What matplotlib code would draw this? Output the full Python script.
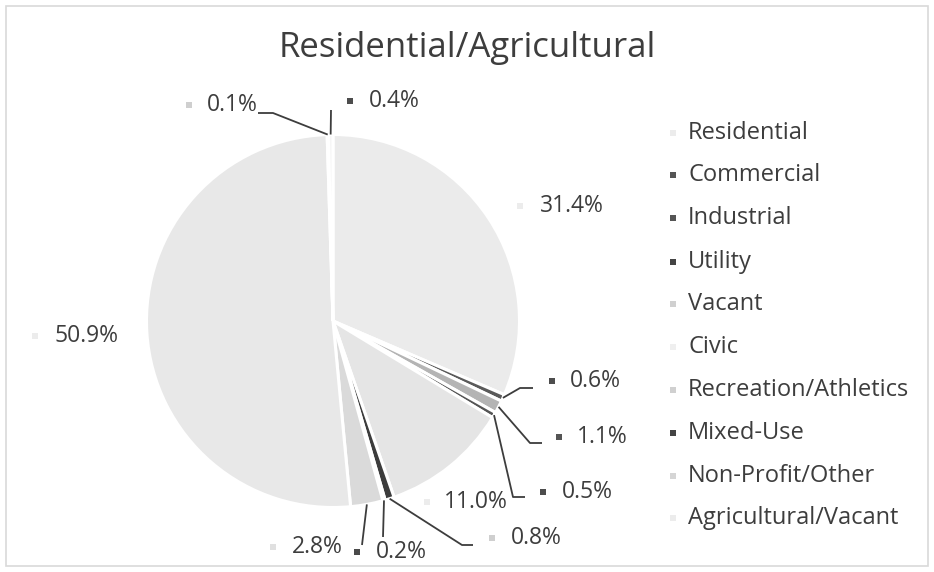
import matplotlib
matplotlib.use("Agg")
import matplotlib.pyplot as plt
from matplotlib.patches import Rectangle
import numpy as np

# Land-use shares, clockwise from 12 o'clock
slice_values = [31.4, 0.6, 1.1, 0.5, 11.0, 0.8, 0.2, 2.8, 50.9, 0.1, 0.4]
slice_colors = ['#ebebeb', '#5a5a5a', '#b4b4b4', '#555555', '#e5e5e5', '#3c3c3c',
                '#f2f2f2', '#dadada', '#e8e8e8', '#f6f6f6', '#f6f6f6']
label_marker_colors = ['#ececec', '#4d4d4d', '#555555', '#4d4d4d', '#ececec', '#cfcfcf',
                       '#4a4a4a', '#e0e0e0', '#ececec', '#cfcfcf', '#4d4d4d']

legend_labels = ['Residential', 'Commercial', 'Industrial', 'Utility', 'Vacant', 'Civic',
                 'Recreation/Athletics', 'Mixed-Use', 'Non-Profit/Other', 'Agricultural/Vacant']
legend_colors = ['#ececec', '#555555', '#555555', '#444444', '#d0d0d0', '#efefef',
                 '#d0d0d0', '#444444', '#d5d5d5', '#ececec']

title = 'Residential/Agricultural'

# canvas in pixels, y measured from the top
W, H = 934, 572
PIE_X, PIE_Y, PIE_R = 333, 321, 186.5
TEXT_COLOR = '#3d3d3d'
FONT = 'Open Sans'

# label placement: marker (x, y), text left x, leader elbow points (label side first)
label_layout = [
    ((520, 206), 540, []),
    ((552, 381), 570, [(533, 388), (520, 388)]),
    ((559, 437), 577, [(542, 443), (530, 443)]),
    ((543, 492), 562, [(525, 497), (513, 497)]),
    ((427, 502), 444, []),
    ((492, 538), 511, [(473, 545), (462, 545)]),
    ((357, 552), 376, [(383, 537)]),
    ((273, 547), 292, [(362, 545)]),
    ((35, 336), 54, []),
    ((189, 105), 207, [(258, 113), (273, 113)]),
    ((350, 101), 369, [(331, 110)]),
]

legend_x = 673
legend_y = [133, 175, 218, 262, 304, 347, 390, 433, 476, 518]


def flip(y):
    return H - y


fig = plt.figure(figsize=(W / 100, H / 100), dpi=100)
ax = fig.add_axes([0, 0, 1, 1])

wedges, _ = ax.pie(slice_values, colors=slice_colors, startangle=90, counterclock=False,
                   center=(PIE_X, flip(PIE_Y)), radius=PIE_R, frame=True,
                   wedgeprops=dict(edgecolor='white', linewidth=2.2))

ax.set_xlim(0, W)
ax.set_ylim(0, H)
ax.set_aspect('equal')
ax.axis('off')

# outer chart border
ax.add_patch(Rectangle((6, 6), W - 12, H - 12, fill=False, edgecolor='#d9d9d9', linewidth=1.2))

ax.text(W / 2, flip(57), title, ha='center', va='baseline', fontsize=25,
        color=TEXT_COLOR, family=FONT)

# data labels with leader lines
for w, val, mcol, (mpos, tx, elbows) in zip(wedges, slice_values, label_marker_colors, label_layout):
    ax.scatter(mpos[0], flip(mpos[1]), marker='s', s=24, color=mcol, linewidths=0, zorder=3)
    ax.text(tx, flip(mpos[1]), f'{val:.1f}%', ha='left', va='center', fontsize=16.5,
            color=TEXT_COLOR, family=FONT)
    if elbows:
        mid = np.deg2rad((w.theta1 + w.theta2) / 2)
        ax_x = PIE_X + PIE_R * np.cos(mid)
        ax_y = flip(PIE_Y) + PIE_R * np.sin(mid)
        xs = [p[0] for p in elbows] + [ax_x]
        ys = [flip(p[1]) for p in elbows] + [ax_y]
        ax.plot(xs, ys, color=TEXT_COLOR, linewidth=1.3, solid_capstyle='butt', zorder=4)

# legend
for lab, col, y in zip(legend_labels, legend_colors, legend_y):
    ax.scatter(legend_x, flip(y), marker='s', s=24, color=col, linewidths=0)
    ax.text(legend_x + 15, flip(y), lab, ha='left', va='center', fontsize=17,
            color=TEXT_COLOR, family=FONT)

fig.savefig('out.png', dpi=100, facecolor='white')
